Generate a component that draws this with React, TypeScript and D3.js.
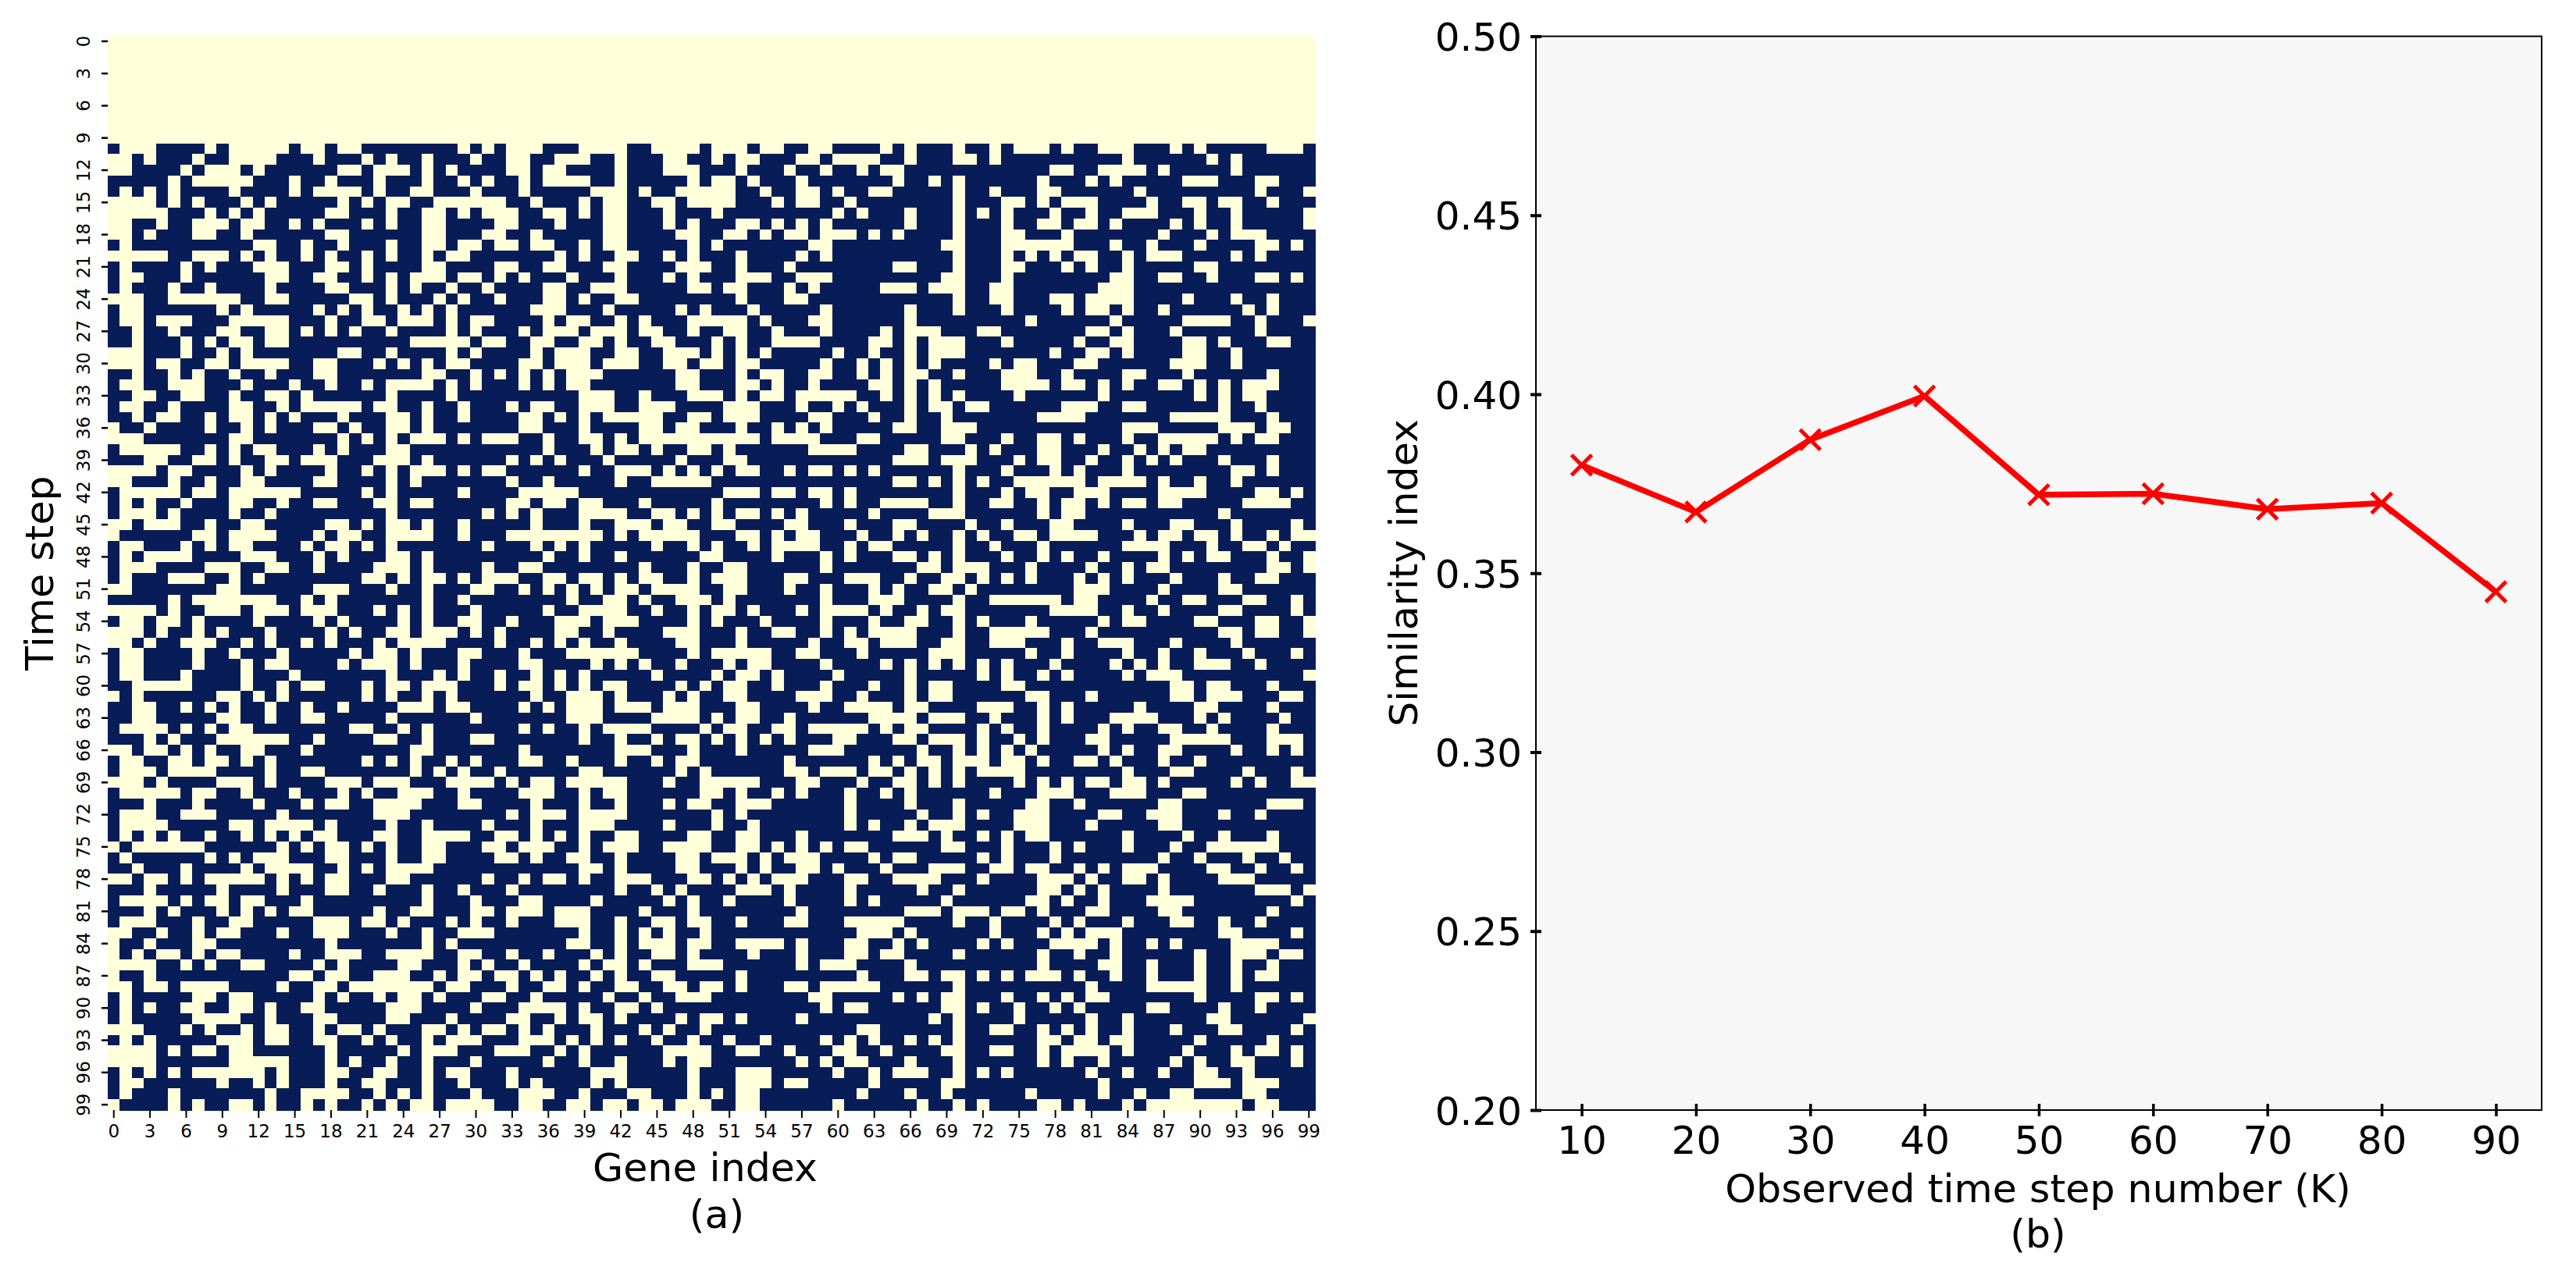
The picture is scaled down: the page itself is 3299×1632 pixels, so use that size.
import React, { useEffect, useRef } from 'react';
import * as d3 from 'd3';

// Panel (a): the first steps are all light, then one row of light gene runs per time step
const blankSteps = 10;
const lightGeneRuns: string[] = [
  '1-3 8 10-14 16-17 19-20 29 31 33-35 39-42 45-48 50-52 54-55 58-59 64 66 70 73 75-77 79 82-84 88 90 96-98',
  '0-1 3 7 10-13 17 21 23 26 30 33-34 37-39 42 46-47 50 52-53 57-58 60-63 66 70-71 73 84 91 93',
  '0-1 6 8-10 12 19-20 22-24 26 28 33-34 36-37 42 46-48 52 56 59 62 64-65 78-79 82-85 87 93',
  '5 7-11 15 18 22 26 29 31 34 36-39 42 48 50-51 53 57 65 68 70 77 81 83 89-91 95-96',
  '1 3 5 10 15 17-20 22 25-26 30 34 40-42 44 47-48 49-51 54 57-58 60 63-64 70 73 77-78 85 95 99',
  '0-3 5 7 11 13 19 21 23-24 27-32 35 39 41-42 45-46 48 49-51 55 57-58 61 70 74-75 77 79-81 86 89-90 92-93 96',
  '0-4 8 10 12 18-19 23 26-27 29 31-33 36-37 39 41-42 46 50 60 62 66 70 72 74 78 81 84-86 90 93 99',
  '0-1 4 7-9 11-12 15 17 21 23 26-27 32-33 37 41-42 46 48 52-53 55 57 59 66 70 74 77-78 80-81 83 88 90 93 99',
  '0-1 3 7-8 11 18-19 26-27 31-32 35 41-42 47-48 51-52 54 56-57 59-61 63 65 70 74-75 79 87 91 93-95',
  '1 12-13 16 19 23 26-27 29-30 32-33 35-36 39 41-42 48 50 58-59 69-70 74-79 83 86 90 95-96 98',
  '0-4 7-9 11 13 16 18 21 23 26 28-29 37 39 42-43 46 48 52 57 59 70 74 76 78 80-81 84 86-88 93 95',
  '1 6 8 12-14 18-19 21 26-27 32-33 36-37 41-42 47-48 49 52 56 65-66 70 74-75 79 81 84 90-91',
  '1-2 6 13-14 17-18 21 23 25-27 29-30 32 34 38 42 46 48 52-54 57-59 69-70 74 83-84 87-88 91 95-96 98',
  '1 5 8 13 18-19 23 25 28 31 36-37 40-42 48 49 51-52 56 58 64-66 68-70 73-74 82-84',
  '0-2 5-10 13-14 20-21 23 27 29 32 36-37 39 42-43 52 56-57 70 73-74 78-79 81-84 89 93 96',
  '1-2 9 11 17 19 21 24 26 28 35-37 41 47 49 53 59 66 70 74 79 81-82 84 87 94 96',
  '1-2 4-6 10-14 18 21-22 24-26 28 30-31 36 38-39 42 44 48 49-52 54 58-59 66 76 83 89-92 95 99',
  '2 5 9-10 13-14 16 18 20 23 28 30 34 36-38 40-42 44-45 48 51-52 55 59 64 66-68 72-73 81-82 84 88 95',
  '2 6 8 10-11 13-14 25-29 31-32 35-36 39-40 42 45-46 50 52 55-58 63-64 66 68-70 74 80 83-84 89-90 92 96-97',
  '0-2 6 9 11 19-20 23 28 30 35 37-39 42-43 46-48 50 52 54 60 63 66 68-70 78 81-82 84 89-90 93',
  '0-2 4-5 8-9 11-14 17-18 22 24 26 28-29 34-35 37-39 41-43 46-47 49-50 52-53 59 62 64 66 68 73 75-76 80-81 88-90 93',
  '2 5 7 10 13 17-18 26-27 30 32 34 36 38-40 47-48 52 54-55 58-59 62 64 66-67 70 74-76 79 84-85 89 96',
  '1-2 5-7 11 15 18 21 23-26 28 30 34 36 38-39 47-48 52-53 55 58 63-64 66 68 74-77 79-80 82 84 87-88 90 92 94-96',
  '2-3 6-7 10 13-14 16 23 28 39-41 44 48-50 52 54-55 57-61 64 66 68 70 75 82 90 92 94-95',
  '1-2 5 10-11 14 16-20 22-23 26 29 33 35-36 39-41 44-46 51-53 57 60 62 66 68-69 71-72 79-81 84-85 92 95',
  '2 4-5 8 10-11 13 15 19 23-24 26 29 34-35 37 39 41-45 48-49 51-53 58-59 63 66 69 77-80 88-92 96',
  '0 3 8 11 13 17-18 20 23-24 26 34-35 39 44-45 47-48 52 55 57 59 65 66 69-71 84-86 92-94 96-97',
  '0-2 10-11 19 21 23 25-27 29 31-32 33 36 39-40 42 44-53 55-58 62-63 69-70 74 77-78 80 84 87-91 93 95-96',
  '1-5 8 10 12-13 17 19 23-24 36 40 42-43 45 48-49 51 58-61 66-67 71 73 77-78 82 85 87 89-90',
  '3-4 7-8 10 13-14 16-18 22-24 26 33 35 37 41 47 51-52 65 66-67 69-71 75 77-78 81 84 86 88 92 96',
  '0-3 5-6 11 13 18 21 23 25-27 29 31-32 39 42-44 46 48 50 52-53 56 58-59 61 63 70 74 78 80 84 93-94 96',
  '0-1 5 8 11-12 17-18 23 25 33 36 42 45-49 65 66 68 70 72 75-80 82-85 87 90 93',
  '1-5 7-8 10-15 21 23 29 34-38 51-53 55-56 58-59 61 70 74 76-77 80-82 87-90 95-96 98',
  '1 3 6 10-11 14 17-18 22-23 25-26 33-34 36-37 39-40 44 50 59 61 64-65 66-67 70 73-74 77 79-80 82 84-85 87-88 94-97',
  '1-3 5 10 13 23 31 33 35 39-42 45-46 48 50 52-53 55 57 63 68-70 77 79-80 92',
  '0-1 3-5 8 11-12 18-19 21 23-24 26 29 35 39 42-44 46-47 50-51 56-57 61 65 66 71 74 78-79 84 88-89 93 98',
  '0 7-8 10-13 17 19-20 23-26 29 33-40 42 44-48 52-53 55 57-58 62 65 67 70 72 75-76 78-81 85 87-88 90-91 93 96 98-99',
  '1-2 6 8 10-11 16 18-19 21 23 31 35 37 39 45 48 50 53 55-58 61 63-64 70 73 77 84-87 91 94-95 97',
  '1 3-6 11-13 17 19 23-24 26 36 39 42 49-50 55 59 61 65 66 68 70 74 77 79 82 87 89 91-92 96 99',
  '1-3 8-10 13-14 17 22-24 26 31 34-35 44 48 51-52 59 67-68 70-72 76 81 84 86-87 96-97 99',
  '1 5-7 10 12 21-22 24 26-27 29 31-32 33 36-37 39-40 42 44-45 48 50-52 56-57 61-63 66 69-70 72 74 76 80 82 84 88 92 95-96',
  '0-1 9-10 17-19 23 26 30-31 34 36 38 40 42-43 45-48 51-52 56 59 63 65 68-69 71 80-82 87 92-93',
  '5 7-13 16 18 26 29 38 41-42 44 47-49 51 59 63-65 70 73-78 80-81 86 89-90 94-95 98',
  '0-3 5 8-10 12-14 16-18 22 24 26 30 36 39-42 45 48 50-51 53 57 59-62 64 67 69-70 78-81 84 87 92-93 98',
  '1-2 4-5 7 12 17 19 24 26 29-30 33 37-39 41-43 48 50 54 59 63 66-67 70 72 76 82 84-85 90-91 95-96 99',
  '0-2 4 7 9 13 18 20 23-24 26-28 30 32 37-38 41 46-48 52 55-56 59 61 63-65 66 70 73-77 81 92-93 95-96 99',
  '0-1 3 6-8 11 13 16 18 22 24-27 32 35 37 39 42 47-48 52 58 61-62 64-65 66 69-70 73-75 79 82-84 88 93',
  '1-2 7 10 14 20 22-23 25 29-30 34 38-43 48 50-54 57-58 62 68-70 76 79 84 87 90 94 98',
  '1-2 7 11 13-14 19 21-23 25 29 34-35 40 42 44 47 51 53-54 59 64 66 68 70 72 74 78 83 85 87 90-92 95',
  '1-2 6 11 15 23 27 29 32 35 37 39 45 50 52-53 55 60 66 72 74 77 79 84 86-88 99',
  '2-6 11 14 16-17 21 23-24 26-28 32 34-35 37 39 41-42 47 49 51-52 55 59 63 66 68-69 74-75 88-89 91-92 96',
  '0 2 9-10 12 14 21 23 26 28 35 38-40 42 46 48 51-52 57-59 62 66 68-69 76-77 81 88-89 91-93 97-98',
  '2-3 6 8 10 13 16 19 24-26 28-29 34 36 38-40 42-44 46-48 52-53 58 61-64 66-67 72-74 77 79 85 90-91 96',
  '2-3 9-10 13 16-17 23 30 38-40 45-48 50 52-53 56 63-65 66 68-70 73 77 79 83-86 90 92 97',
  '1-4 6 8 10-11 20-21 24 26 34 36 39 41-44 49 51-52 55-56 58-62 64 66-67 72 74 77 82 84 87-88 91 96',
  '3 5 9-14 17 22-23 26 30-31 39 42 45 47-48 50 52 54 56 60-61 65 66 68-70 72 75 77 81-82 88-92 96-98',
  '0-1 3-4 6 8 11-12 16 25-26 34 42-44 48 52 58-60 67 70 72 74 76 82 84 87-88 93 96 98',
  '1-2 5-6 8-9 11 13 21 23 25 28 30 34-35 38 42 45 47-48 56 63 65 67-68 70-72 74-75 77 80-81 83 87 90',
  '1-3 5-8 13 16-17 25 27 29 32 39-40 47 49 56-57 59-61 63-64 66 68 70 72-75 84 88-89 94 98',
  '0-2 4 9-11 13 18-20 22-24 28-31 33 35-36 38-42 46 49-53 57-58 62 65 66 68 70 75 77 79 81-82 84-85 87 93 95 98-99',
  '1-5 7-8 11 15 19 21 24-26 29 34-36 39 41-42 49-50 52 55 57 61 64 66 73 77-79 83-85 89-90',
  '3 7 12 16 18-19 22-25 29-30 35 39 42 46 48-49 52-54 61 66 70 76-77 80 87-88 96-98',
  '1-3 6-8 14 22-24 33 35-37 39-42 50 52 61 67 70 72 75-77 82-83 86-88 92 95',
  '1-4 10-11 13-16 18 23 26 31 35 39-41 46 50 53 61 63 66 68-70 75-77 81 87-88',
  '1 3 5 8 11 13 15 17-18 22-23 26-29 32 33 35 37 39 42-43 48-49 52-53 57 65 66-67 69 72 74 76-77 84 89 92 96',
  '0 2-7 14 16 18-19 21 23 26-27 31-32 34-36 39 41-43 46-49 52-53 55 57 59 61-62 69-70 74 78 80 84 88 91-96',
  '1 8 10 12-14 18-19 23 26-27 32 33 35 38-39 42 47-48 50-52 54 56-58 63 65 66 72 74 78 87 90 94 97',
  '2 6 11 13-16 19 21 23-26 39-40 42 47-48 52 54 57-58 60 64 68-70 73-74 76-77 80 82 84-86 91-92 95 98',
  '0-1 3-4 6 8-12 14 16 18-19 23-24 31 34 36-37 39 42-44 48-49 51 53 55-57 61-62 65 66-68 72 77-79 81 84-85 87 92-94',
  '3 9 14 18-19 22 26 29 33 42 45 47 52-54 56 61 67 70 77-78 80 82 87 95-97 99',
  '1-4 6 8-9 11-12 16 26 30 34-35 40 46 48 51 56 61 63 69 76-77 79 82 86-89 98',
  '3 5 9 11 13 15-16 22 25-26 30-31 33-35 37-39 44 48 57 66-68 70-72 74-75 77 81-82 87-88 96',
  '1-3 7 10-11 17-19 21-22 24 28 30 33 37-39 42 45-46 48-49 52 56-57 61-65 70 73 78 80 84 88-89 92 95',
  '0-1 4 7 9-10 14 17-19 23 26 29-31 39 42 44 46 49 62-64 66 73 77 79 81-83 92-93 98',
  '0 3 7-8 18 26 28 38-39 42 44-46 48-49 52-55 57 61-62 65 67 72 74 78-81 83 86 88 93-96',
  '0 2 4-5 7 9-10 15 18-20 23-26 29-30 33 36 40 42 45-46 48 53 57 61-62 64-65 70 77 80 83 90 93-95 97-98',
  '0-3 6 8 11-12 17 19 24-25 29 31 34 39 41-42 44 48-50 57 59-61 66 77 82-83 86 90 93 96',
  '0 3 15-16 18-19 22-24 27 29-30 32 33 35 37 40 42 45-46 52 62 66-67 69-70 72 74 76-78 80 83 86 90 93 95-96',
  '0-1 3-4 6-9 14 17-18 20-26 28-29 33 36-37 39 42-43 46-47 49-50 52 56-57 59-63 70 81 86-90 93',
  '1 7-8 10-11 17 19 22 24-25 27 31-32 35 41 44 47-49 58-59 65 67 69-70 74 77 79 81-82 90 95-96 98',
  '1 3 6-7 10-11 13 16-17 23-25 30 34-37 39 42-43 45 59 61-62 69-70 72 75 78 80 86-87 92 95',
  '1 7-10 13 17-18 23-24 28 33-34 37 39-40 42 47 49-50 52 57 68 70 75 81 84 91-92 99',
  '0-2 6 8 11 13-14 17 19-20 22 26-27 29 31-32 34 36 40 44 46 49 62-63 70 73-74 77 79 81 84 88 92-93 98',
  '1 3 9-11 13-14 17-18 21 23 26 28-30 34-36 38 40 42 45 48 51 54 59 61 63 66 68 70 77-78 80-81 83-84 90 96',
  '0-3 5 7-8 10-11 18 24 26-28 32 33-34 37 39 46-49 52-53 56 60-61 64 69-70 73-74 77 79-82 84 89 93 95-96 98',
  '0-3 10-14 18 20 23 26 30 36 39 42 46 48-49 57 59 61-62 66 70 77 79 82 88 90 93-94 98',
  '1 3 5 7-12 14 18-19 22-23 26 28-29 33 40-42 48 52-54 60 63 65 66-67 70 72 74 81 84 87 90-91 94',
  '1-2 9 12 14 18 21-22 26 29 33 35 40 42 48 52-54 56-57 63 69-70 82 90-92 94-96',
  '1 5 13 16-19 22 24 26 30 34-36 39 43-44 48 50 52-53 62 66 69 76 82 85 88-89 94-95',
  '0 5 7 10-11 13 16 18 21 23 25-26 28-31 34-35 38-39 41-42 44-45 47-49 52-53 60 67 70 72 77-78 80 84 86-93 95-96',
];

const geneCount = 100;
const stepCount = 100;
const heatTicks = d3.range(0, 100, 3);

// Panel (b)
const observedSteps = [10, 20, 30, 40, 50, 60, 70, 80, 90];
const similarity = [0.3802, 0.3671, 0.3873, 0.3995, 0.3719, 0.3722, 0.3679, 0.3696, 0.3448];
const similarityTicks = [0.2, 0.25, 0.3, 0.35, 0.4, 0.45, 0.5];

const FONT = '"DejaVu Sans", sans-serif';

const parseRuns = (runs: string): Set<number> => {
  const genes = new Set<number>();
  runs.split(' ').forEach(run => {
    const [a, b] = run.split('-').map(Number);
    for (let g = a; g <= (b === undefined ? a : b); g++) genes.add(g);
  });
  return genes;
};

const App: React.FC = () => {
  const svgRef = useRef<SVGSVGElement | null>(null);

  useEffect(() => {
    const svg = d3.select(svgRef.current);
    svg.selectAll('*').remove();

    // Heatmap
    const heat = { left: 138, right: 1684, top: 46, bottom: 1422 };
    const xGene = d3.scaleBand<number>().domain(d3.range(geneCount)).range([heat.left, heat.right]);
    const yStep = d3.scaleBand<number>().domain(d3.range(stepCount)).range([heat.top, heat.bottom]);
    const cellColor = d3.scaleOrdinal<number, string>().domain([0, 1]).range(['#ffffd9', '#081d58']);

    const cells = d3.range(stepCount).flatMap(step => {
      const row = step - blankSteps;
      const light = row >= 0 ? parseRuns(lightGeneRuns[row]) : null;
      return d3.range(geneCount).map(gene => ({
        step,
        gene,
        value: light && !light.has(gene) ? 1 : 0,
      }));
    });

    svg.append('g')
      .attr('shape-rendering', 'crispEdges')
      .selectAll('rect')
      .data(cells)
      .enter()
      .append('rect')
      .attr('x', d => xGene(d.gene)!)
      .attr('y', d => yStep(d.step)!)
      .attr('width', xGene.bandwidth() + 0.5)
      .attr('height', yStep.bandwidth() + 0.5)
      .attr('fill', d => cellColor(d.value));

    const heatX = svg.append('g')
      .attr('transform', `translate(0,${heat.bottom})`)
      .call(d3.axisBottom(xGene).tickValues(heatTicks).tickSize(10).tickPadding(9));
    heatX.select('.domain').remove();
    heatX.selectAll('line').attr('stroke', '#000').attr('stroke-width', 2);
    heatX.selectAll('text').attr('font-size', 23).attr('font-family', FONT).attr('fill', '#000');

    const heatY = svg.append('g')
      .attr('transform', `translate(${heat.left},0)`)
      .call(d3.axisLeft(yStep).tickValues(heatTicks).tickSize(8));
    heatY.select('.domain').remove();
    heatY.selectAll('line').attr('stroke', '#000').attr('stroke-width', 2.5);
    heatY.selectAll('text')
      .attr('transform', 'rotate(-90)')
      .attr('x', 0)
      .attr('y', -23)
      .attr('dy', 0)
      .attr('text-anchor', 'middle')
      .attr('font-size', 23)
      .attr('font-family', FONT)
      .attr('fill', '#000');

    const addLabel = (text: string, x: number, y: number, rotate = false) => {
      svg.append('text')
        .attr('transform', `translate(${x},${y})${rotate ? ' rotate(-90)' : ''}`)
        .attr('text-anchor', 'middle')
        .attr('font-size', 50.6)
        .attr('font-family', FONT)
        .attr('fill', '#000')
        .text(text);
    };

    addLabel('Gene index', 903, 1513);
    addLabel('(a)', 918, 1573);
    addLabel('Time step', 68, 734, true);

    // Line chart
    const plot = { left: 1967, right: 3255, top: 46.5, bottom: 1422 };
    const xObs = d3.scaleLinear().domain([6, 94]).range([plot.left, plot.right]);
    const ySim = d3.scaleLinear().domain([0.2, 0.5]).range([plot.bottom, plot.top]);

    svg.append('rect')
      .attr('x', plot.left)
      .attr('y', plot.top)
      .attr('width', plot.right - plot.left)
      .attr('height', plot.bottom - plot.top)
      .attr('fill', '#f7f7f7')
      .attr('stroke', '#000')
      .attr('stroke-width', 2);

    const obsAxis = svg.append('g')
      .attr('transform', `translate(0,${plot.bottom})`)
      .call(d3.axisBottom(xObs).tickValues(observedSteps).tickFormat(d3.format('d')).tickSize(8).tickPadding(12));
    obsAxis.select('.domain').remove();
    obsAxis.selectAll('line').attr('y1', -8).attr('stroke', '#000').attr('stroke-width', 3.5);
    obsAxis.selectAll('text').attr('font-size', 50).attr('font-family', FONT).attr('fill', '#000');

    const simAxis = svg.append('g')
      .attr('transform', `translate(${plot.left},0)`)
      .call(d3.axisLeft(ySim).tickValues(similarityTicks).tickFormat(d3.format('.2f')).tickSize(7).tickPadding(11));
    simAxis.select('.domain').remove();
    simAxis.selectAll('line').attr('x1', 7).attr('stroke', '#000').attr('stroke-width', 4);
    simAxis.selectAll('text').attr('dy', '0.36em').attr('font-size', 50).attr('font-family', FONT).attr('fill', '#000');

    addLabel('Observed time step number (K)', 2610, 1540);
    addLabel('(b)', 2610, 1598);
    addLabel('Similarity index', 1815, 734, true);

    const line = d3.line<number>()
      .x((_, i) => xObs(observedSteps[i]))
      .y(d => ySim(d));

    svg.append('path')
      .datum(similarity)
      .attr('fill', 'none')
      .attr('stroke', '#ff0000')
      .attr('stroke-width', 7.5)
      .attr('stroke-linejoin', 'round')
      .attr('d', line);

    svg.selectAll('.marker')
      .data(similarity)
      .enter()
      .append('path')
      .attr('class', 'marker')
      .attr('d', d3.symbol().type(d3.symbolTimes).size(444))
      .attr('transform', (d, i) => `translate(${xObs(observedSteps[i])},${ySim(d)})`)
      .attr('fill', 'none')
      .attr('stroke', '#ff0000')
      .attr('stroke-width', 5);
  }, []);

  return (
    <svg
      ref={svgRef}
      width={3299}
      height={1632}
      style={{ position: 'absolute', left: 0, top: 0, background: '#fff' }}
    />
  );
};

export default App;
